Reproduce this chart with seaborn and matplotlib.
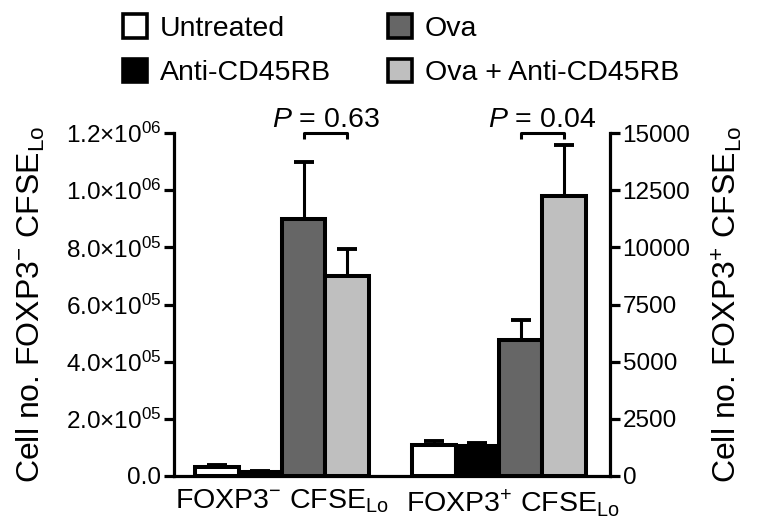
import matplotlib
matplotlib.use("Agg")
import matplotlib.pyplot as plt
import matplotlib.transforms as mtransforms
from matplotlib.patches import Patch
import seaborn as sns
import pandas as pd
import math

# ---- data ----
groups = ["FOXP3- CFSElo", "FOXP3+ CFSElo"]
group_labels = [r"FOXP3$^{-}$ CFSE$_{\mathrm{Lo}}$", r"FOXP3$^{+}$ CFSE$_{\mathrm{Lo}}$"]
treatments = ["Untreated", "Anti-CD45RB", "Ova", "Ova + Anti-CD45RB"]
colors = ["#ffffff", "#000000", "#666666", "#bfbfbf"]

neg_means = [30000, 15000, 900000, 700000]
neg_sem = [10000, 4000, 200000, 95000]
pos_means = [1350, 1300, 5950, 12250]
pos_sem = [180, 160, 870, 2230]

p_labels = [r"$P$ = 0.63", r"$P$ = 0.04"]

left_ticks = [0, 200000, 400000, 600000, 800000, 1000000, 1200000]
left_ticklabels = ["0.0", r"2.0×10$^{05}$", r"4.0×10$^{05}$", r"6.0×10$^{05}$",
                   r"8.0×10$^{05}$", r"1.0×10$^{06}$", r"1.2×10$^{06}$"]
right_ticks = [0, 2500, 5000, 7500, 10000, 12500, 15000]
right_ticklabels = ["0", "2500", "5000", "7500", "10000", "12500", "15000"]

left_label = r"Cell no. FOXP3$^{-}$ CFSE$_{\mathrm{Lo}}$"
right_label = r"Cell no. FOXP3$^{+}$ CFSE$_{\mathrm{Lo}}$"

# ---- style ----
sns.set_style("white")
plt.rcParams["font.family"] = ["Liberation Sans", "DejaVu Sans"]
plt.rcParams["mathtext.fontset"] = "custom"
plt.rcParams["mathtext.rm"] = "Liberation Sans"
plt.rcParams["mathtext.it"] = "Liberation Sans:italic"
plt.rcParams["mathtext.bf"] = "Liberation Sans:bold"
for k in ["text.color", "axes.labelcolor", "xtick.color", "ytick.color"]:
    plt.rcParams[k] = "black"

fig = plt.figure(figsize=(7.58, 5.29), dpi=100)
W, H = 758, 529
ax = fig.add_axes([174 / W, 1 - 476 / H, 436 / W, 343 / H])
ax2 = ax.twinx()

df_neg = pd.DataFrame({"group": groups[0], "treatment": treatments,
                       "value": neg_means, "sem": neg_sem})
df_pos = pd.DataFrame({"group": groups[1], "treatment": treatments,
                       "value": pos_means, "sem": pos_sem})

bar_lw = 2.9
for a, df in [(ax, df_neg), (ax2, df_pos)]:
    sns.barplot(data=df, x="group", y="value", hue="treatment", order=groups,
                hue_order=treatments, palette=colors, edgecolor="black",
                linewidth=bar_lw, errorbar=None, ax=a, legend=False,
                width=0.8, saturation=1)

# error bars (upper only) from bar geometry
centers = {}
for a, df, key in [(ax, df_neg, 0), (ax2, df_pos, 1)]:
    for cont, tr in zip(a.containers, treatments):
        for bar in cont:
            h = bar.get_height()
            if h is None or (isinstance(h, float) and math.isnan(h)):
                continue
            x = bar.get_x() + bar.get_width() / 2
            err = float(df.loc[df.treatment == tr, "sem"].iloc[0])
            a.errorbar([x], [h], yerr=[[0], [err]], fmt="none", ecolor="black",
                       elinewidth=2.2, capsize=7, capthick=2.8, zorder=1)
            centers[(key, tr)] = x

ax.set_ylim(0, 1200000)
ax2.set_ylim(0, 15000)
ax.set_xlim(-0.498, 1.512)

ax.set_yticks(left_ticks, left_ticklabels)
ax2.set_yticks(right_ticks, right_ticklabels)
ax.set_xticks([0, 1], group_labels)
ax.set_xlabel("")
ax2.set_xlabel("")

for a in (ax, ax2):
    for s in a.spines.values():
        s.set_linewidth(2.3)
        s.set_color("black")
    a.spines["top"].set_visible(False)
ax.spines["right"].set_visible(False)
ax2.spines["left"].set_visible(False)
ax2.spines["bottom"].set_visible(False)

ax.tick_params(axis="y", direction="out", length=7, width=2.3, labelsize=17.5, pad=2,
               left=True, color="black", labelcolor="black")
ax2.tick_params(axis="y", direction="out", length=7, width=2.3, labelsize=17.5, pad=2,
                right=True, color="black", labelcolor="black")
ax.tick_params(axis="x", length=0, labelsize=20.5, pad=8, labelcolor="black")
ax2.tick_params(axis="x", length=0, labelbottom=False)

# second group label sits slightly right of the group centre in the reference
xt = ax.get_xticklabels()
xt[1].set_transform(xt[1].get_transform() +
                    mtransforms.ScaledTranslation(14 / 100, 0, fig.dpi_scale_trans))

ax.set_ylabel(left_label, fontsize=23, labelpad=14, color="black")
ax2.set_ylabel(right_label, fontsize=23, labelpad=14, color="black")

# significance brackets
trans = mtransforms.blended_transform_factory(ax.transData, ax.transAxes)
drop = 6 / 343
for key, lab in zip([0, 1], p_labels):
    x1 = centers[(key, "Ova")]
    x2 = centers[(key, "Ova + Anti-CD45RB")]
    ax.plot([x1, x1, x2, x2], [1 - drop, 1, 1, 1 - drop], color="black",
            lw=2.2, transform=trans, clip_on=False, solid_capstyle="butt")
    ax.text((x1 + x2) / 2, 1 + 6 / 343, lab, transform=trans, ha="center",
            va="baseline", fontsize=20.5, color="black")

# legend
handles = [Patch(facecolor=c, edgecolor="black", linewidth=2.6) for c in colors]
leg = fig.legend(handles, treatments, ncol=2, loc="upper left",
                 bbox_to_anchor=(123 / W, 1 - 14 / H), frameon=False, fontsize=20.5,
                 handlelength=0.85, handleheight=0.9, handletextpad=0.45,
                 columnspacing=2.0, labelspacing=0.6, borderpad=0, borderaxespad=0)
for t in leg.get_texts():
    t.set_color("black")

fig.savefig("out.png", dpi=100)
